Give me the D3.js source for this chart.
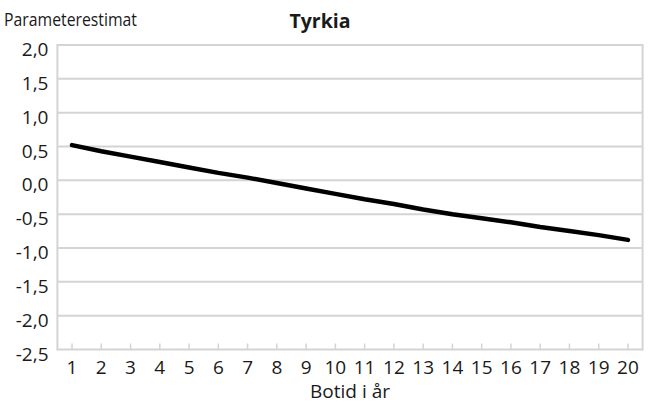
<!DOCTYPE html>
<html><head><meta charset="utf-8">
<script src="https://cdn.jsdelivr.net/npm/d3@7"></script>
<style>body{margin:0;background:#fff}svg{display:block}text{font-family:"Open Sans","Noto Sans",sans-serif;fill:#1a1a1a}</style>
</head><body>
<svg id="c" width="648" height="405"></svg>
<script>
const categories = ["1","2","3","4","5","6","7","8","9","10","11","12","13","14","15","16","17","18","19","20"];
const values = [0.52,0.43,0.35,0.27,0.19,0.11,0.04,-0.04,-0.12,-0.20,-0.28,-0.35,-0.43,-0.50,-0.56,-0.62,-0.69,-0.75,-0.81,-0.88];
const yTicks = [2.0,1.5,1.0,0.5,0.0,-0.5,-1.0,-1.5,-2.0,-2.5];
const title = "Tyrkia", yTitle = "Parameterestimat", xTitle = "Botid i år";

const svg = d3.select("#c");
const L = 57.4, R = 642.6, T = 45, B = 349.5;
const x = d3.scaleBand().domain(categories).range([L, R]);
const y = d3.scaleLinear().domain([-2.5, 2.0]).range([B, T]);
const grid = "#d4d4d4";

svg.append("g").selectAll("line").data(yTicks).join("line")
  .attr("x1", L).attr("x2", R).attr("y1", d => y(d)).attr("y2", d => y(d))
  .attr("stroke", grid).attr("stroke-width", 2);
svg.append("line").attr("x1", L).attr("x2", L).attr("y1", T - 1).attr("y2", B + 1).attr("stroke", grid).attr("stroke-width", 2);
svg.append("line").attr("x1", R).attr("x2", R).attr("y1", T - 1).attr("y2", B + 1).attr("stroke", grid).attr("stroke-width", 2);

const fmt = d => d3.format(".1f")(d).replace(".", ",").replace("−", "-");
svg.append("g").selectAll("text").data(yTicks).join("text")
  .attr("x", 48.5).attr("y", d => y(d) + 11)
  .attr("text-anchor", "end").attr("font-size", 19).text(fmt);

const xc = d => x(d) + x.bandwidth() / 2;
svg.append("g").selectAll("line").data(categories).join("line")
  .attr("x1", xc).attr("x2", xc).attr("y1", B).attr("y2", B - 6)
  .attr("stroke", grid).attr("stroke-width", 1.5);
svg.append("g").selectAll("text").data(categories).join("text")
  .attr("x", xc).attr("y", 374).attr("text-anchor", "middle").attr("font-size", 19).text(d => d);

const line = d3.line().x((d, i) => xc(categories[i])).y(d => y(d));
svg.append("path").datum(values).attr("d", line)
  .attr("fill", "none").attr("stroke", "#000").attr("stroke-width", 4.5)
  .attr("stroke-linecap", "round").attr("stroke-linejoin", "round");

svg.append("text").attr("x", 4).attr("y", 26).attr("font-size", 19)
  .attr("textLength", 133).attr("lengthAdjust", "spacingAndGlyphs").text(yTitle);
svg.append("text").attr("x", 320).attr("y", 28).attr("text-anchor", "middle")
  .attr("font-size", 19.5).attr("font-weight", "bold").text(title);
svg.append("text").attr("x", 310).attr("y", 398)
  .attr("font-size", 19).attr("textLength", 80).attr("lengthAdjust", "spacingAndGlyphs").text(xTitle);
</script>
</body></html>
